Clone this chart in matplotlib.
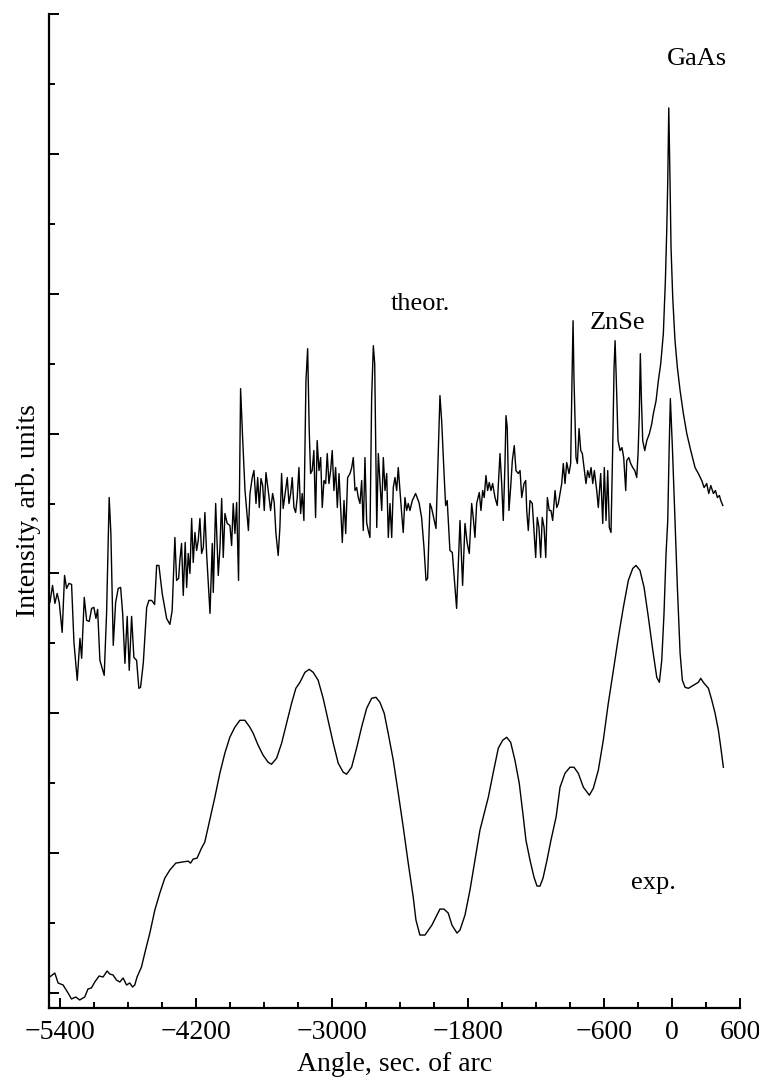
import numpy as np
import matplotlib
matplotlib.use("Agg")
import matplotlib.pyplot as plt
from matplotlib.ticker import FixedLocator, NullFormatter

# X-ray rocking curves, ZnSe layer on GaAs substrate
# angle in sec. of arc, intensity in arb. units

theor_angle = [
    -5492, -5469, -5448, -5428, -5410, -5384, -5363, -5345, -5324, -5301,
    -5280, -5251, -5227, -5212, -5189, -5168, -5145, -5124, -5104, -5086,
    -5071, -5051, -5013, -4992, -4969, -4954, -4933, -4912, -4889, -4868,
    -4850, -4830, -4810, -4792, -4771, -4751, -4727, -4707, -4692, -4668,
    -4638, -4618, -4594, -4568, -4550, -4530, -4501, -4462, -4433, -4413,
    -4389, -4374, -4356, -4345, -4330, -4315, -4298, -4285, -4271, -4256,
    -4241, -4227, -4212, -4197, -4183, -4168, -4153, -4138, -4124, -4109,
    -4079, -4059, -4050, -4029, -4006, -3991, -3976, -3962, -3947, -3927,
    -3903, -3888, -3874, -3859, -3844, -3827, -3809,
    -3790, -3770, -3755, -3740, -3726, -3706, -3691, -3673, -3658, -3644,
    -3629, -3614, -3600, -3585, -3565, -3544, -3526, -3512, -3497, -3477,
    -3462, -3447, -3433, -3412, -3397, -3382, -3367, -3353, -3338, -3323,
    -3309, -3294, -3279, -3265, -3250, -3232, -3217, -3203, -3191, -3177,
    -3162, -3147, -3133, -3117, -3102, -3088, -3073, -3058, -3044, -3029,
    -3014, -3000, -2985, -2970, -2955, -2940, -2922, -2911, -2896, -2881,
    -2864, -2843, -2828, -2814, -2799, -2784, -2770, -2755, -2740, -2726,
    -2711, -2696, -2682, -2667, -2652, -2637, -2625, -2607, -2593, -2578,
    -2563, -2549, -2534, -2519, -2505, -2490, -2475, -2461, -2446, -2431,
    -2417, -2402, -2387, -2373, -2358, -2343, -2329, -2314, -2293, -2264,
    -2234, -2211, -2190, -2172, -2158, -2137,
    -2122, -2084, -2049, -2034, -2014, -1999, -1985, -1961, -1940, -1902,
    -1872, -1849, -1828, -1808, -1790, -1769, -1755, -1740, -1725, -1702,
    -1687, -1672, -1658, -1643, -1628, -1614, -1599, -1584, -1563, -1543,
    -1519, -1504, -1490, -1475, -1466, -1455, -1440, -1425, -1410, -1393,
    -1378, -1357, -1342, -1327, -1307, -1292, -1283, -1269, -1254, -1234,
    -1219, -1204, -1190, -1175, -1160, -1146, -1130, -1115, -1101, -1084,
    -1069, -1054, -1033, -1018, -1004, -989, -974, -960, -945, -930,
    -910, -895, -883, -874, -866, -848, -836, -821, -806, -792,
    -777, -760, -745, -730, -715, -700, -686, -665, -651, -630,
    -612, -598, -583, -568, -554, -539, -524, -512, -503, -492,
    -477, -459, -442, -427, -409, -400, -382, -365, -347, -329,
    -312, -300, -289, -280, -271, -259, -241, -223, -200, -179,
    -165, -141, -121, -100, -77, -59, -47, -38, -29, -18,
    -9, 6, 26, 47, 71, 100, 130, 165, 203, 232,
    262, 283, 306, 324, 342, 365, 383, 400, 418, 430, 448,
]

theor_int = [
    406, 423, 405, 415, 406, 376, 433, 420, 425, 424,
    366, 328, 370, 350, 411, 388, 387, 400, 401, 390,
    399, 348, 333, 395, 511, 475, 363, 406, 420, 421,
    395, 345, 392, 338, 392, 351, 348, 320, 321, 345,
    401, 408, 408, 404, 443, 443, 415, 390, 384, 398,
    471, 428, 430, 448, 465, 413, 466, 421, 455, 435,
    490, 446, 476, 458, 468, 490, 455, 461, 496, 455,
    395, 465, 416, 505, 433, 461, 510, 451, 495, 485,
    483, 463, 505, 475, 506, 428, 620,
    568, 518, 498, 478, 515, 531, 538, 505, 531, 501,
    530, 523, 498, 536, 518, 498, 515, 506, 475, 453,
    481, 535, 500, 518, 531, 505, 515, 531, 501, 496,
    511, 541, 495, 515, 488, 628, 660, 578, 535, 538,
    558, 491, 568, 538, 551, 501, 528, 525, 555, 525,
    538, 558, 518, 541, 501, 535, 491, 466, 508, 475,
    531, 535, 541, 551, 518, 521, 511, 505, 528, 478,
    551, 486, 478, 471, 611, 663, 645, 481, 555, 525,
    498, 551, 518, 535, 471, 505, 471, 521, 531, 518,
    541, 518, 495, 476, 511, 498, 505, 498, 508, 515,
    506, 491, 461, 428, 430, 505,
    500, 480, 613, 588, 538, 503, 508, 458, 456, 400,
    488, 423, 485, 465, 455, 505, 491, 471, 505, 516,
    498, 518, 511, 533, 518, 526, 518, 525, 511, 503,
    555, 525, 488, 545, 593, 581, 498, 521, 548, 563,
    538, 535, 538, 511, 525, 528, 498, 478, 508, 505,
    478, 451, 491, 481, 451, 491, 481, 451, 511, 498,
    498, 488, 518, 501, 505, 515, 525, 545, 525, 546,
    535, 545, 631, 688, 631, 551, 545, 580, 558, 555,
    541, 525, 538, 531, 541, 525, 538, 518, 501, 535,
    485, 541, 488, 538, 481, 476, 561, 641, 668, 628,
    568, 558, 561, 551, 518, 548, 551, 545, 541, 538,
    531, 555, 595, 655, 611, 568, 558, 568, 575, 585,
    595, 608, 628, 645, 675, 728, 778, 828, 901, 828,
    761, 711, 668, 641, 618, 595, 575, 558, 541, 535,
    528, 521, 525, 515, 523, 515, 518, 511, 513, 508, 503,
]

exp_angle = [
    -5494, -5449, -5420, -5376, -5332, -5302, -5264, -5229, -5185, -5156,
    -5126, -5096, -5058, -5023, -4987, -4964, -4935, -4905, -4875, -4846,
    -4816, -4787, -4763, -4743, -4723, -4684, -4648, -4610, -4566, -4522,
    -4478, -4434, -4381, -4330, -4272, -4251, -4228, -4193, -4154, -4125,
    -4081, -4036, -3992, -3948, -3904, -3860, -3815, -3771, -3727, -3698,
    -3654, -3610, -3566, -3536, -3491, -3447, -3403, -3359, -3321, -3285,
    -3241, -3203, -3168, -3124, -3080, -3036, -2991, -2947, -2903, -2873,
    -2829, -2785, -2741, -2696, -2652, -2614, -2579, -2541, -2506, -2461,
    -2417, -2373, -2329, -2285, -2261, -2226, -2181, -2120, -2049, -2014,
    -1976, -1943, -1899, -1872, -1828, -1784, -1740, -1696, -1667, -1622,
    -1578, -1534, -1495, -1460, -1425, -1387, -1349, -1313, -1290, -1254,
    -1219, -1192, -1166, -1139, -1104, -1069, -1024, -989, -945, -901,
    -866, -828, -783, -730, -695, -651, -607, -563, -518, -474,
    -430, -386, -347, -318, -283, -247, -209, -170, -135, -112,
    -91, -71, -53, -38, -26, -15, 3, 26, 47, 71,
    91, 115, 144, 188, 232, 253, 276, 321, 351, 380,
    409, 430, 453,
]

exp_int = [
    31, 35, 25, 23, 15, 9, 11, 8, 11, 19,
    20, 26, 32, 31, 37, 34, 33, 28, 26, 30,
    23, 25, 21, 23, 31, 41, 58, 75, 98, 115,
    130, 138, 145, 146, 147, 145, 149, 150, 160, 166,
    188, 211, 235, 255, 271, 281, 288, 288, 281, 275,
    263, 253, 246, 244, 250, 265, 285, 305, 320, 326,
    336, 339, 336, 328, 310, 288, 265, 245, 236, 234,
    241, 260, 281, 300, 310, 311, 306, 295, 275, 248,
    215, 181, 145, 111, 88, 73, 73, 83, 99, 99,
    95, 83, 75, 78, 93, 118, 148, 178, 191, 211,
    236, 260, 268, 271, 266, 248, 225, 191, 168, 148,
    131, 122, 122, 130, 148, 168, 191, 221, 235, 241,
    241, 235, 221, 213, 220, 238, 268, 305, 338, 371,
    401, 428, 440, 443, 438, 421, 391, 358, 331, 326,
    348, 395, 455, 488, 558, 610, 561, 488, 421, 355,
    328, 321, 320, 323, 326, 330, 326, 320, 308, 295,
    278, 261, 241,
]

plt.rcParams['font.family'] = ['Liberation Serif', 'DejaVu Serif']
plt.rcParams['axes.unicode_minus'] = True

fig = plt.figure(figsize=(7.59, 10.8), dpi=100)
ax = fig.add_axes([0.0646, 0.0667, 0.9104, 0.9203])

ax.plot(theor_angle, theor_int, color='black', lw=1.0)
ax.plot(exp_angle, exp_int, color='black', lw=1.0)

ax.set_xlim(-5500, 600)
ax.set_ylim(0, 995)

# axes: only left and bottom lines, ticks pointing inward
for side in ['top', 'right']:
    ax.spines[side].set_visible(False)
for side in ['left', 'bottom']:
    ax.spines[side].set_linewidth(1.6)

ax.xaxis.set_major_locator(FixedLocator([-5400, -4200, -3000, -1800, -600, 0, 600]))
ax.xaxis.set_minor_locator(FixedLocator(np.arange(-5400, 601, 300)))
ax.yaxis.set_major_locator(FixedLocator(np.arange(15, 996, 140)))
ax.yaxis.set_minor_locator(FixedLocator(np.arange(85, 996, 140)))
ax.yaxis.set_major_formatter(NullFormatter())

ax.tick_params(which='major', direction='in', length=7.5, width=1.4,
               labelsize=20, pad=9)
ax.tick_params(which='minor', direction='in', length=4.5, width=1.4)

ax.set_xlabel('Angle, sec. of arc', fontsize=20, labelpad=5)
ax.set_ylabel('Intensity, arb. units', fontsize=20)
ax.yaxis.set_label_coords(-0.012, 0.5)

ax.text(-2225, 705, 'theor.', fontsize=19, ha='center', va='center')
ax.text(-486, 686, 'ZnSe', fontsize=19, ha='center', va='center')
ax.text(221, 950, 'GaAs', fontsize=19, ha='center', va='center')
ax.text(-168, 125, 'exp.', fontsize=19, ha='center', va='center')

fig.savefig('out.png', dpi=100, facecolor='white')
